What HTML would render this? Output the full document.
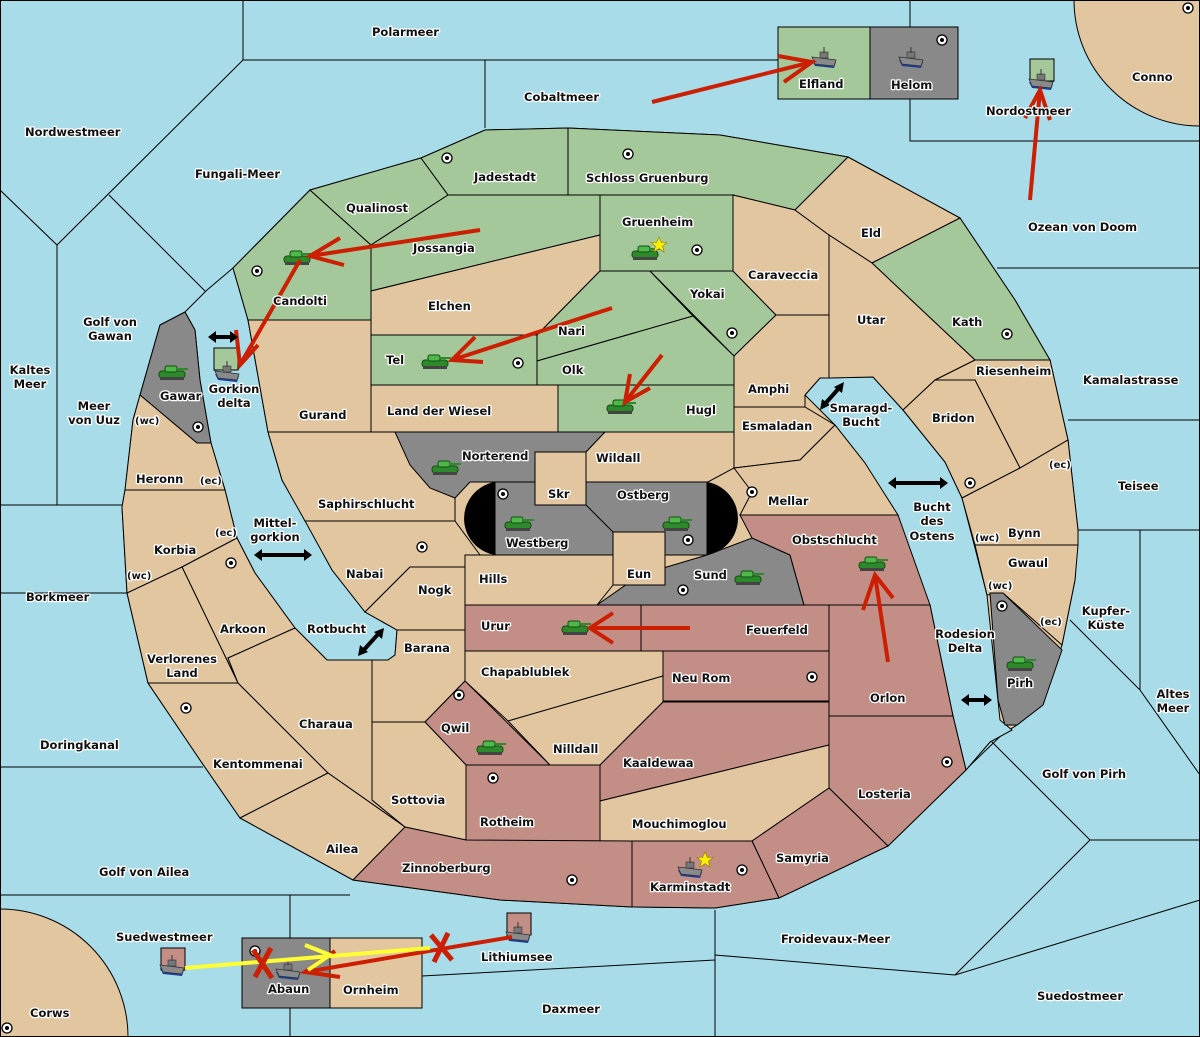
<!DOCTYPE html>
<html><head><meta charset="utf-8"><style>
html,body{margin:0;padding:0;background:#a8dce8;width:1200px;height:1037px;overflow:hidden;position:relative;}
svg{display:block;position:absolute;left:0;top:0;}
text{font-family:"DejaVu Sans","Liberation Sans",sans-serif;font-weight:bold;font-size:11.5px;fill:#111;stroke:#fff;stroke-width:2.6px;paint-order:stroke;stroke-linejoin:round;}
.sm{font-size:10px;}
.t{fill:#e2c6a0;stroke:#000;stroke-width:1;}
.g{fill:#a5c89a;stroke:#000;stroke-width:1;}
.r{fill:#c38e86;stroke:#000;stroke-width:1;}
.y{fill:#898989;stroke:#000;stroke-width:1;}
.l{fill:none;stroke:#000;stroke-width:1;}
.ar{stroke:#cc1e00;stroke-width:4;fill:none;}
.ba{stroke:#000;stroke-width:4;fill:none;}
</style></head><body>
<svg width="1200" height="1037" viewBox="0 0 1200 1037" xmlns="http://www.w3.org/2000/svg">
<defs>
<g id="dot"><circle r="5" fill="#fff" stroke="#000" stroke-width="1.3"/><circle r="2" fill="#000"/></g>
<g id="tank"><rect x="-13" y="-2" width="26" height="7" rx="3" fill="#2d8a2a" stroke="#124d12" stroke-width="1"/><rect x="-12" y="4" width="24" height="3" fill="#444"/><rect x="-7" y="-7" width="12" height="6" rx="2" fill="#4fb84a" stroke="#124d12" stroke-width="1"/><rect x="4" y="-5" width="12" height="2" fill="#2d8a2a"/></g>
<g id="ship"><path d="M-12,0 L12,2 L10,8 L-9,6 Z" fill="#1c3c9a"/><path d="M-12,-3 L12,0 L10,6 L-9,4 Z" fill="#8a8a8a" stroke="#333" stroke-width="0.8"/><rect x="-4" y="-8" width="8" height="6" fill="#777" stroke="#333" stroke-width="0.6"/><line x1="0" y1="-13" x2="0" y2="-7" stroke="#333"/></g>
<g id="star"><polygon points="0,-8 2.4,-2.5 8,-2.5 3.5,1.2 5.2,7 0,3.6 -5.2,7 -3.5,1.2 -8,-2.5 -2.4,-2.5" fill="#ffee00" stroke="#8a7a00" stroke-width="0.6"/></g>
</defs>
<rect width="1200" height="1037" fill="#a8dce8"/>
<g class="l">
<polyline points="243,0 243,60 778,60"/>
<line x1="485" y1="60" x2="485" y2="128"/>
<polyline points="910,0 910,27"/><polyline points="910,99 910,141 1200,141"/>
<polyline points="243,60 57,245 0,190"/>
<line x1="57" y1="245" x2="57" y2="505"/>
<line x1="109" y1="195" x2="207" y2="293"/>
<line x1="0" y1="505" x2="122" y2="505"/>
<line x1="0" y1="593" x2="127" y2="593"/>
<line x1="0" y1="767" x2="203" y2="767"/>
<line x1="997" y1="268" x2="1200" y2="268"/>
<line x1="1068" y1="420" x2="1200" y2="420"/>
<line x1="1078" y1="530" x2="1200" y2="530"/>
<polyline points="1140,530 1140,690 1200,775"/>
<polyline points="1070,620 1140,690"/>
<polyline points="1012,725 955,780"/>
<polyline points="990,740 1090,840 1200,840"/>
<polyline points="1090,840 955,975 1200,900"/>
<polyline points="715,910 715,955 955,975"/>
<line x1="715" y1="955" x2="715" y2="1037"/>
<line x1="0" y1="895" x2="350" y2="895"/>
<line x1="290" y1="895" x2="290" y2="938"/><line x1="290" y1="1008" x2="290" y2="1037"/>
<line x1="422" y1="976" x2="715" y2="960"/>
<line x1="255" y1="573" x2="330" y2="573"/>
<line x1="210" y1="415" x2="265" y2="415"/>
<line x1="870" y1="463" x2="945" y2="463"/>
<line x1="935" y1="622" x2="990" y2="622"/>
</g>
<circle cx="1200" cy="0" r="126" class="t"/>
<circle cx="0" cy="1037" r="128" class="t"/>
<polygon class="t" points="233,268 310,190 421,158 485,130 568,128 720,135 848,157 960,218 1015,300 1050,360 1068,440 1078,530 1075,580 1062,645 1043,705 1017,725 990,742 966,770 888,846 779,898 715,908 632,907 500,900 353,880 240,818 200,760 148,683 127,593 122,507 125,490 133,420 140,395 160,325 185,312 207,300"/>
<polygon fill="#a8dce8" stroke="#000" stroke-width="1" points="207,290 233,268 248,320 268,432 282,480 305,520 332,570 365,612 397,630 395,655 388,660 327,660 295,628 255,573 237,538 225,490 211,443 200,380 195,330 185,312"/>
<polygon fill="#a8dce8" stroke="#000" stroke-width="1" points="805,395 820,378 873,377 903,410 945,462 962,498 975,548 987,595 1000,720 1012,730 990,742 966,770 953,716 930,605 898,540 865,463 835,425"/>
<polygon class="g" points="233,268 310,190 371,245 371,320 248,320"/>
<polygon class="g" points="310,190 421,158 448,195 371,245"/>
<polygon class="g" points="421,158 485,130 568,128 568,195 448,195"/>
<polygon class="g" points="568,128 720,135 848,157 795,210 733,195 600,195 568,195"/>
<polygon class="g" points="371,245 448,195 600,195 600,235 371,291"/>
<polygon class="g" points="600,195 733,195 733,271 600,271"/>
<polygon class="t" points="371,291 600,235 600,271 537,335 371,335"/>
<polygon class="g" points="537,335 600,271 650,271 693,316 537,361"/>
<polygon class="g" points="650,271 733,271 776,315 734,356"/>
<polygon class="g" points="537,361 693,316 734,356 734,385 537,385"/>
<polygon class="g" points="371,335 537,335 537,385 371,385"/>
<polygon class="t" points="371,385 558,385 558,432 371,432"/>
<polygon class="g" points="558,385 734,385 734,432 558,432"/>
<polygon class="t" points="248,320 371,320 371,432 268,432"/>
<polygon class="t" points="733,195 795,210 829,235 829,315 776,315 733,271"/>
<polygon class="t" points="795,210 848,157 960,218 872,263 829,235"/>
<polygon class="g" points="872,263 960,218 1015,300 1050,360 975,360"/>
<polygon class="t" points="829,235 872,263 975,360 935,380 903,410 873,377 829,378"/>
<polygon class="t" points="734,356 776,315 829,315 829,378 820,378 805,395 805,407 734,407"/>
<polygon class="t" points="734,407 805,407 835,425 800,460 734,468"/>
<polygon class="t" points="935,380 975,360 1050,360 1068,440 1020,468 975,380"/>
<polygon class="t" points="903,410 935,380 975,380 1020,468 962,498 945,462"/>
<polygon class="t" points="962,498 1020,468 1068,440 1078,530 1078,545 975,545"/>
<polygon class="t" points="975,545 1078,545 1075,580 1062,645 1003,593 987,595"/>
<polygon class="y" points="990,593 1003,593 1062,650 1043,705 1017,725 1005,725 998,700"/>
<polygon class="y" points="140,395 160,325 185,312 195,330 200,380 211,443 197,443"/>
<polygon class="t" points="133,420 140,395 197,443 211,443 225,490 125,490"/>
<polygon class="t" points="125,490 225,490 237,538 182,567 127,593 122,507"/>
<polygon class="t" points="182,567 237,538 255,573 295,628 228,658 238,683"/>
<polygon class="t" points="127,593 182,567 238,683 148,683"/>
<polygon class="t" points="148,683 238,683 328,773 240,818 200,760"/>
<polygon class="t" points="228,658 295,628 327,660 372,660 372,800 405,827 328,773 238,683"/>
<polygon class="t" points="240,818 328,773 405,827 353,880"/>
<polygon class="t" points="268,432 395,432 420,470 455,498 455,521 305,521 282,480"/>
<polygon class="y" points="395,432 605,432 586,452 535,452 535,482 470,482 455,498 430,488 410,465"/>
<polygon class="t" points="586,452 605,432 734,432 734,468 706,483 586,483"/>
<polygon class="t" points="734,468 800,460 835,425 865,463 898,515 740,515 752,492"/>
<polygon class="t" points="305,521 455,521 480,555 465,567 410,567 365,612 332,570"/>
<polygon class="t" points="465,555 613,555 613,585 597,605 465,605 465,567"/>
<polygon class="t" points="365,612 410,567 465,567 465,605 465,630 397,630"/>
<polygon class="t" points="397,630 465,630 465,681 425,722 372,722 372,660 388,660 395,655"/>
<polygon class="y" points="597,605 640,575 707,555 752,538 790,555 804,605"/>
<path d="M495,482 L707,482 A37,37 0 0 1 707,555 L495,555 A37,37 0 0 1 495,482 Z" fill="#000"/>
<rect x="495" y="482" width="212" height="73" fill="#898989" stroke="#000"/>
<polyline class="l" points="586,505 613,532"/>
<rect x="535" y="452" width="51" height="53" class="t"/>
<rect x="613" y="532" width="52" height="53" class="t"/>
<polygon class="r" points="740,515 898,515 930,605 804,605 790,555 752,538"/>
<rect x="465" y="605" width="176" height="46" class="r"/>
<rect x="641" y="605" width="188" height="46" class="r"/>
<polygon class="r" points="829,605 930,605 953,716 829,716"/>
<polygon class="t" points="465,651 663,651 663,676 508,721 465,681"/>
<polygon class="t" points="508,721 663,676 663,702 600,765 550,765"/>
<rect x="663" y="651" width="166" height="50" class="r"/>
<polygon class="r" points="425,722 465,681 550,765 466,765"/>
<polygon class="t" points="372,722 425,722 466,765 466,840 405,827 372,800"/>
<polygon class="r" points="600,765 663,702 829,702 829,745 600,801"/>
<polygon class="t" points="600,801 829,745 829,788 752,841 600,841"/>
<rect x="466" y="765" width="134" height="76" class="r"/>
<polygon class="r" points="829,716 953,716 966,770 888,846 829,788"/>
<polygon class="r" points="752,841 829,788 888,846 779,898"/>
<polygon class="r" points="632,841 752,841 779,898 715,908 632,907"/>
<polygon class="r" points="353,880 405,827 466,840 632,841 632,907 500,900"/>
<rect x="778" y="27" width="92" height="72" class="g"/>
<rect x="870" y="27" width="88" height="72" class="y"/>
<rect x="1030" y="59" width="24" height="22" class="g"/>
<rect x="214" y="348" width="24" height="22" class="g"/>
<rect x="242" y="938" width="88" height="70" class="y"/>
<rect x="330" y="938" width="92" height="70" class="t"/>
<rect x="161" y="948" width="24" height="22" class="r"/>
<rect x="507" y="913" width="24" height="22" class="r"/>
<g>
<use href="#dot" x="447" y="158"/><use href="#dot" x="628" y="154"/><use href="#dot" x="942" y="40"/><use href="#dot" x="1188" y="8"/>
<use href="#dot" x="257" y="271"/><use href="#dot" x="697" y="250"/><use href="#dot" x="732" y="333"/><use href="#dot" x="1007" y="334"/>
<use href="#dot" x="518" y="363"/><use href="#dot" x="198" y="427"/><use href="#dot" x="503" y="494"/><use href="#dot" x="752" y="492"/>
<use href="#dot" x="688" y="540"/><use href="#dot" x="422" y="547"/><use href="#dot" x="231" y="563"/><use href="#dot" x="683" y="590"/>
<use href="#dot" x="970" y="483"/><use href="#dot" x="1002" y="606"/><use href="#dot" x="812" y="677"/><use href="#dot" x="459" y="695"/>
<use href="#dot" x="947" y="762"/><use href="#dot" x="493" y="778"/><use href="#dot" x="186" y="708"/><use href="#dot" x="572" y="880"/>
<use href="#dot" x="742" y="870"/><use href="#dot" x="255" y="951"/><use href="#dot" x="7" y="1028"/>
</g>
<g>
<use href="#tank" x="297" y="258"/><use href="#tank" x="645" y="253"/><use href="#tank" x="435" y="362"/><use href="#tank" x="172" y="373"/>
<use href="#tank" x="620" y="407"/><use href="#tank" x="445" y="468"/><use href="#tank" x="518" y="524"/><use href="#tank" x="676" y="524"/>
<use href="#tank" x="748" y="578"/><use href="#tank" x="872" y="564"/><use href="#tank" x="575" y="628"/><use href="#tank" x="1020" y="664"/>
<use href="#tank" x="490" y="748"/>
<use href="#ship" x="824" y="60"/><use href="#ship" x="911" y="60"/><use href="#ship" x="1041" y="82"/><use href="#ship" x="227" y="374"/>
<use href="#ship" x="172" y="968"/><use href="#ship" x="518" y="935"/><use href="#ship" x="690" y="870"/><use href="#ship" x="288" y="972"/>
<use href="#star" x="659" y="245"/><use href="#star" x="705" y="860"/>
</g>
<g class="ar">
<line x1="652" y1="102" x2="812" y2="62"/><polyline points="778,56 812,62 784,82"/>
<line x1="1030" y1="200" x2="1040" y2="90"/><polyline points="1025,118 1040,90 1050,120"/>
<line x1="480" y1="230" x2="310" y2="256"/><polyline points="340,238 310,256 344,265"/>
<line x1="300" y1="260" x2="240" y2="365"/><polyline points="236,330 240,365 258,345"/>
<line x1="612" y1="308" x2="452" y2="360"/><polyline points="475,337 452,360 483,362"/>
<line x1="662" y1="355" x2="625" y2="402"/><polyline points="630,374 625,402 650,388"/>
<line x1="690" y1="628" x2="590" y2="628"/><polyline points="613,613 590,628 613,643"/>
<line x1="888" y1="662" x2="875" y2="575"/><polyline points="863,610 875,575 893,598"/>
<line x1="512" y1="937" x2="305" y2="972"/><polyline points="335,951 305,972 340,977"/>
</g>
<g stroke="#ffff33" stroke-width="4" fill="none">
<line x1="185" y1="968" x2="430" y2="948"/><polyline points="305,945 330,955 308,970"/>
</g>
<g stroke="#cc1e00" stroke-width="5" fill="none">
<line x1="253" y1="950" x2="272" y2="978"/><line x1="271" y1="948" x2="255" y2="977"/>
<line x1="431" y1="935" x2="452" y2="960"/><line x1="448" y1="933" x2="434" y2="962"/>
</g>
<g class="ba">
<line x1="214" y1="337" x2="232" y2="337"/>
<line x1="260" y1="555" x2="306" y2="555"/>
<line x1="362" y1="652" x2="380" y2="632"/>
<line x1="824" y1="405" x2="840" y2="387"/>
<line x1="894" y1="483" x2="942" y2="483"/>
<line x1="966" y1="700" x2="987" y2="700"/>
</g>
<g fill="#000">
<polygon points="208,337 216,331 216,343"/><polygon points="238,337 230,331 230,343"/>
<polygon points="254,555 262,549 262,561"/><polygon points="312,555 304,549 304,561"/>
<polygon points="358,656 360,645 368,652"/><polygon points="384,628 382,639 374,632"/>
<polygon points="820,410 822,399 830,405"/><polygon points="844,382 842,393 834,387"/>
<polygon points="888,483 896,477 896,489"/><polygon points="948,483 940,477 940,489"/>
<polygon points="961,700 969,694 969,706"/><polygon points="992,700 984,694 984,706"/>
</g>
<g>
<text x="372" y="36">Polarmeer</text><text x="524" y="101">Cobaltmeer</text>
<text x="799" y="88">Elfland</text><text x="891" y="89">Helom</text>
<text x="986" y="115">Nordostmeer</text><text x="1132" y="81">Conno</text>
<text x="25" y="136">Nordwestmeer</text><text x="195" y="178">Fungali-Meer</text>
<text x="474" y="181">Jadestadt</text><text x="586" y="182">Schloss Gruenburg</text>
<text x="346" y="212">Qualinost</text><text x="622" y="226">Gruenheim</text>
<text x="861" y="237">Eld</text><text x="1028" y="231">Ozean von Doom</text>
<text x="413" y="252">Jossangia</text><text x="748" y="279">Caraveccia</text>
<text x="690" y="298">Yokai</text><text x="273" y="305">Candolti</text>
<text x="428" y="310">Elchen</text><text x="857" y="324">Utar</text><text x="952" y="326">Kath</text>
<text x="110" y="326" text-anchor="middle">Golf von</text><text x="110" y="340" text-anchor="middle">Gawan</text>
<text x="558" y="335">Nari</text><text x="386" y="364">Tel</text><text x="562" y="374">Olk</text>
<text x="30" y="374" text-anchor="middle">Kaltes</text><text x="30" y="388" text-anchor="middle">Meer</text>
<text x="976" y="375">Riesenheim</text><text x="1083" y="384">Kamalastrasse</text>
<text x="748" y="393">Amphi</text><text x="160" y="400">Gawar</text>
<text x="234" y="393" text-anchor="middle">Gorkion</text><text x="234" y="407" text-anchor="middle">delta</text>
<text x="861" y="412" text-anchor="middle">Smaragd-</text><text x="861" y="426" text-anchor="middle">Bucht</text>
<text x="94" y="410" text-anchor="middle">Meer</text><text x="94" y="424" text-anchor="middle">von Uuz</text>
<text x="135" y="424" class="sm">(wc)</text>
<text x="299" y="419">Gurand</text><text x="387" y="415">Land der Wiesel</text><text x="686" y="414">Hugl</text>
<text x="932" y="422">Bridon</text><text x="742" y="430">Esmaladan</text>
<text x="462" y="460">Norterend</text><text x="596" y="462">Wildall</text>
<text x="1049" y="468" class="sm">(ec)</text>
<text x="136" y="483">Heronn</text><text x="200" y="484" class="sm">(ec)</text>
<text x="1118" y="490">Teisee</text>
<text x="617" y="499">Ostberg</text><text x="548" y="498">Skr</text><text x="768" y="505">Mellar</text>
<text x="318" y="508">Saphirschlucht</text>
<text x="932" y="511" text-anchor="middle">Bucht</text><text x="932" y="525" text-anchor="middle">des</text><text x="932" y="540" text-anchor="middle">Ostens</text>
<text x="275" y="527" text-anchor="middle">Mittel-</text><text x="275" y="541" text-anchor="middle">gorkion</text>
<text x="215" y="536" class="sm">(ec)</text><text x="975" y="541" class="sm">(wc)</text>
<text x="1008" y="537">Bynn</text><text x="792" y="544">Obstschlucht</text><text x="506" y="547">Westberg</text>
<text x="154" y="554">Korbia</text><text x="1008" y="567">Gwaul</text>
<text x="346" y="578">Nabai</text><text x="627" y="578">Eun</text><text x="694" y="579">Sund</text>
<text x="127" y="579" class="sm">(wc)</text><text x="479" y="583">Hills</text><text x="418" y="594">Nogk</text>
<text x="988" y="589" class="sm">(wc)</text><text x="26" y="601">Borkmeer</text>
<text x="1106" y="615" text-anchor="middle">Kupfer-</text><text x="1106" y="629" text-anchor="middle">Küste</text>
<text x="220" y="633">Arkoon</text><text x="481" y="630">Urur</text><text x="307" y="633">Rotbucht</text>
<text x="746" y="634">Feuerfeld</text><text x="1040" y="625" class="sm">(ec)</text>
<text x="965" y="638" text-anchor="middle">Rodesion</text><text x="965" y="652" text-anchor="middle">Delta</text>
<text x="404" y="652">Barana</text>
<text x="182" y="663" text-anchor="middle">Verlorenes</text><text x="182" y="677" text-anchor="middle">Land</text>
<text x="481" y="676">Chapablublek</text><text x="672" y="682">Neu Rom</text><text x="1007" y="687">Pirh</text>
<text x="1173" y="698" text-anchor="middle">Altes</text><text x="1173" y="712" text-anchor="middle">Meer</text>
<text x="870" y="702">Orlon</text><text x="299" y="728">Charaua</text><text x="441" y="732">Qwil</text>
<text x="40" y="749">Doringkanal</text><text x="553" y="753">Nilldall</text><text x="213" y="768">Kentommenai</text>
<text x="623" y="767">Kaaldewaa</text><text x="1042" y="778">Golf von Pirh</text><text x="858" y="798">Losteria</text>
<text x="391" y="804">Sottovia</text><text x="480" y="826">Rotheim</text><text x="632" y="828">Mouchimoglou</text>
<text x="326" y="853">Ailea</text><text x="776" y="862">Samyria</text><text x="99" y="876">Golf von Ailea</text>
<text x="402" y="872">Zinnoberburg</text><text x="650" y="891">Karminstadt</text>
<text x="116" y="941">Suedwestmeer</text><text x="781" y="943">Froidevaux-Meer</text><text x="481" y="961">Lithiumsee</text>
<text x="268" y="993">Abaun</text><text x="343" y="994">Ornheim</text><text x="1037" y="1000">Suedostmeer</text>
<text x="542" y="1013">Daxmeer</text><text x="30" y="1017">Corws</text>
</g>
<rect x="0.5" y="0.5" width="1199" height="1036" fill="none" stroke="#000"/>
</svg>
</body></html>
